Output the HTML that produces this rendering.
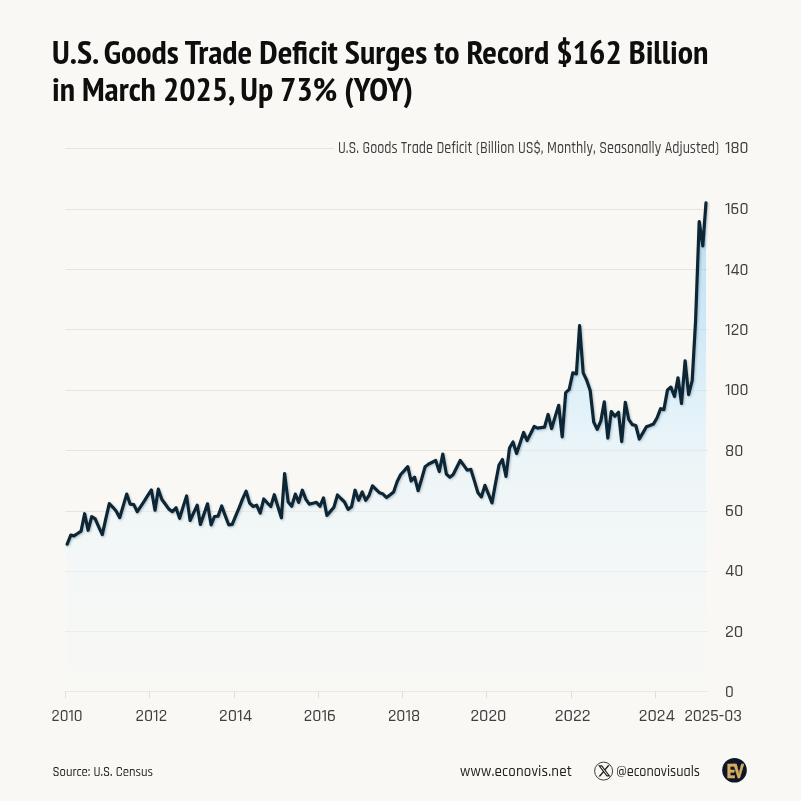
<!DOCTYPE html>
<html><head><meta charset="utf-8"><title>U.S. Goods Trade Deficit</title>
<style>
html,body{margin:0;padding:0}
body{width:801px;height:801px;background:#f9f8f4;position:relative;overflow:hidden}
svg{position:absolute;left:0;top:0;display:block}
.tt{font-family:"PT Sans Narrow","Liberation Sans Narrow","Liberation Sans",sans-serif;font-weight:700;font-size:32.5px;fill:#0e0e0e}
.ax text{font-family:Rajdhani,"Liberation Sans Narrow","Liberation Sans",sans-serif;font-weight:500;font-size:16.7px;fill:#404040}
.grid line{stroke:#e5e4e0;stroke-width:1}
.ticks line{stroke:#e0dfdb;stroke-width:1}
.foot text{font-family:Rajdhani,"Liberation Sans Narrow","Liberation Sans",sans-serif;font-weight:500;fill:#222}
</style></head><body>
<svg width="801" height="801" viewBox="0 0 801 801">
<defs>
<linearGradient id="fillg" x1="0" y1="203" x2="0" y2="691" gradientUnits="userSpaceOnUse">
<stop offset="0.000" stop-color="#7fc6f2" stop-opacity="0.5"/><stop offset="0.117" stop-color="#8fcef6" stop-opacity="0.5"/><stop offset="0.260" stop-color="#a9daf8" stop-opacity="0.5"/><stop offset="0.404" stop-color="#c7eafe" stop-opacity="0.5"/><stop offset="0.486" stop-color="#d9f0fc" stop-opacity="0.5"/><stop offset="0.609" stop-color="#e7f4fa" stop-opacity="0.5"/><stop offset="0.732" stop-color="#edf6fa" stop-opacity="0.5"/><stop offset="0.855" stop-color="#f3f8f8" stop-opacity="0.5"/><stop offset="1.000" stop-color="#f7f8f4" stop-opacity="0.5"/>
</linearGradient>
<filter id="sh" x="-5%" y="-5%" width="110%" height="110%"><feGaussianBlur in="SourceAlpha" stdDeviation="1.3"/><feOffset dx="1.0" dy="1.2" result="b"/><feFlood flood-color="#4a6478" flood-opacity="0.4"/><feComposite in2="b" operator="in"/><feMerge><feMergeNode/><feMergeNode in="SourceGraphic"/></feMerge></filter>
</defs>
<g class="tt">
<text x="52" y="63.5" textLength="656.4" lengthAdjust="spacingAndGlyphs">U.S. Goods Trade Deficit Surges to Record $162 Billion</text>
<text x="52" y="100.5" textLength="361" lengthAdjust="spacingAndGlyphs">in March 2025, Up 73% (YOY)</text>
</g>
<g class="grid"><line x1="65.5" x2="707.5" y1="691.5" y2="691.5"/><line x1="65.5" x2="707.5" y1="631.5" y2="631.5"/><line x1="65.5" x2="707.5" y1="571.5" y2="571.5"/><line x1="65.5" x2="707.5" y1="511.5" y2="511.5"/><line x1="65.5" x2="707.5" y1="450.5" y2="450.5"/><line x1="65.5" x2="707.5" y1="390.5" y2="390.5"/><line x1="65.5" x2="707.5" y1="329.5" y2="329.5"/><line x1="65.5" x2="707.5" y1="269.5" y2="269.5"/><line x1="65.5" x2="707.5" y1="209.5" y2="209.5"/><line x1="65.5" x2="334" y1="148.5" y2="148.5"/></g>
<path d="M67.2,544.2 L70.8,535.1 L74.0,535.9 L77.6,533.5 L81.1,531.1 L84.6,513.7 L88.1,530.3 L91.7,516.7 L95.2,518.9 L98.7,526.8 L102.3,534.6 L105.7,519.1 L109.3,503.6 L112.9,507.3 L116.1,511.0 L119.7,517.7 L123.2,505.9 L126.7,494.1 L130.2,504.2 L133.8,504.6 L137.3,511.7 L140.8,506.3 L144.4,500.9 L147.8,495.4 L151.4,490.0 L155.0,510.2 L158.3,489.2 L161.9,499.5 L165.4,504.3 L168.9,509.1 L172.4,511.7 L176.0,507.8 L179.6,518.3 L183.0,507.1 L186.6,496.0 L190.1,520.5 L193.6,512.9 L197.2,505.2 L200.4,524.4 L204.0,514.1 L207.5,503.8 L211.1,524.8 L214.5,516.5 L218.1,516.1 L221.7,506.0 L225.1,515.4 L228.7,524.8 L232.2,524.4 L235.7,515.9 L239.3,507.3 L242.5,499.2 L246.1,491.2 L249.6,503.0 L253.2,506.5 L256.6,505.2 L260.2,513.0 L263.8,499.0 L267.2,502.8 L270.8,506.5 L274.3,494.7 L277.8,506.2 L281.4,517.8 L284.6,473.5 L288.2,502.0 L291.7,506.3 L295.3,494.1 L298.7,502.4 L302.3,490.2 L305.9,499.3 L309.3,504.1 L312.9,503.2 L316.4,502.4 L319.9,506.3 L323.5,498.0 L326.9,515.5 L330.4,511.4 L333.9,507.2 L337.5,495.0 L340.9,498.5 L344.5,502.0 L348.1,509.4 L351.5,506.8 L355.1,490.2 L358.6,500.3 L362.2,492.0 L365.7,500.3 L369.0,495.5 L372.5,485.8 L376.0,489.3 L379.6,492.8 L383.0,494.1 L386.6,497.6 L390.2,494.8 L393.6,492.0 L397.2,481.5 L400.7,474.5 L404.3,470.6 L407.8,466.6 L411.1,481.0 L414.6,477.2 L418.1,490.7 L421.7,478.7 L425.1,466.7 L428.7,464.0 L432.3,462.2 L435.7,460.5 L439.3,471.5 L442.8,454.0 L446.4,474.1 L449.9,477.2 L453.2,474.5 L456.7,467.5 L460.2,460.5 L463.8,465.4 L467.2,470.2 L470.8,469.3 L474.4,480.9 L477.8,492.4 L481.4,496.9 L484.9,485.4 L488.5,494.1 L492.0,502.9 L495.4,483.9 L499.0,465.0 L502.4,459.5 L506.0,476.4 L509.5,448.0 L513.0,442.0 L516.6,453.5 L520.1,443.0 L523.6,432.5 L527.1,440.5 L530.7,433.5 L534.2,426.5 L537.5,428.1 L541.1,427.6 L544.5,427.2 L548.1,414.5 L551.6,428.5 L555.1,416.9 L558.7,405.3 L562.2,436.8 L565.7,392.7 L569.2,389.4 L572.8,372.9 L576.4,373.9 L579.6,325.5 L583.2,372.9 L586.6,380.0 L590.2,390.5 L593.7,422.0 L597.2,429.4 L600.8,421.1 L604.3,401.9 L607.8,438.1 L611.3,411.5 L614.9,416.3 L618.5,412.3 L621.7,441.6 L625.3,402.3 L628.7,419.3 L632.3,424.6 L635.8,425.5 L639.3,439.0 L642.9,432.9 L646.4,426.8 L649.9,425.5 L653.4,424.1 L657.0,418.0 L660.6,408.7 L663.9,409.6 L667.5,389.9 L670.9,387.1 L674.5,396.5 L678.0,377.8 L681.5,403.5 L685.1,360.9 L688.6,394.6 L692.2,380.6 L695.6,320.6 L699.2,221.6 L702.8,245.9 L706.0,202.9 L706.0,691.4 L67.2,691.4 Z" fill="url(#fillg)"/>
<g class="ticks"><line x1="65.5" x2="65.5" y1="691" y2="698"/><line x1="149.5" x2="149.5" y1="691" y2="698"/><line x1="234.5" x2="234.5" y1="691" y2="698"/><line x1="318.5" x2="318.5" y1="691" y2="698"/><line x1="402.5" x2="402.5" y1="691" y2="698"/><line x1="486.5" x2="486.5" y1="691" y2="698"/><line x1="571.5" x2="571.5" y1="691" y2="698"/><line x1="655.5" x2="655.5" y1="691" y2="698"/></g>
<path d="M67.2,544.2 L70.8,535.1 L74.0,535.9 L77.6,533.5 L81.1,531.1 L84.6,513.7 L88.1,530.3 L91.7,516.7 L95.2,518.9 L98.7,526.8 L102.3,534.6 L105.7,519.1 L109.3,503.6 L112.9,507.3 L116.1,511.0 L119.7,517.7 L123.2,505.9 L126.7,494.1 L130.2,504.2 L133.8,504.6 L137.3,511.7 L140.8,506.3 L144.4,500.9 L147.8,495.4 L151.4,490.0 L155.0,510.2 L158.3,489.2 L161.9,499.5 L165.4,504.3 L168.9,509.1 L172.4,511.7 L176.0,507.8 L179.6,518.3 L183.0,507.1 L186.6,496.0 L190.1,520.5 L193.6,512.9 L197.2,505.2 L200.4,524.4 L204.0,514.1 L207.5,503.8 L211.1,524.8 L214.5,516.5 L218.1,516.1 L221.7,506.0 L225.1,515.4 L228.7,524.8 L232.2,524.4 L235.7,515.9 L239.3,507.3 L242.5,499.2 L246.1,491.2 L249.6,503.0 L253.2,506.5 L256.6,505.2 L260.2,513.0 L263.8,499.0 L267.2,502.8 L270.8,506.5 L274.3,494.7 L277.8,506.2 L281.4,517.8 L284.6,473.5 L288.2,502.0 L291.7,506.3 L295.3,494.1 L298.7,502.4 L302.3,490.2 L305.9,499.3 L309.3,504.1 L312.9,503.2 L316.4,502.4 L319.9,506.3 L323.5,498.0 L326.9,515.5 L330.4,511.4 L333.9,507.2 L337.5,495.0 L340.9,498.5 L344.5,502.0 L348.1,509.4 L351.5,506.8 L355.1,490.2 L358.6,500.3 L362.2,492.0 L365.7,500.3 L369.0,495.5 L372.5,485.8 L376.0,489.3 L379.6,492.8 L383.0,494.1 L386.6,497.6 L390.2,494.8 L393.6,492.0 L397.2,481.5 L400.7,474.5 L404.3,470.6 L407.8,466.6 L411.1,481.0 L414.6,477.2 L418.1,490.7 L421.7,478.7 L425.1,466.7 L428.7,464.0 L432.3,462.2 L435.7,460.5 L439.3,471.5 L442.8,454.0 L446.4,474.1 L449.9,477.2 L453.2,474.5 L456.7,467.5 L460.2,460.5 L463.8,465.4 L467.2,470.2 L470.8,469.3 L474.4,480.9 L477.8,492.4 L481.4,496.9 L484.9,485.4 L488.5,494.1 L492.0,502.9 L495.4,483.9 L499.0,465.0 L502.4,459.5 L506.0,476.4 L509.5,448.0 L513.0,442.0 L516.6,453.5 L520.1,443.0 L523.6,432.5 L527.1,440.5 L530.7,433.5 L534.2,426.5 L537.5,428.1 L541.1,427.6 L544.5,427.2 L548.1,414.5 L551.6,428.5 L555.1,416.9 L558.7,405.3 L562.2,436.8 L565.7,392.7 L569.2,389.4 L572.8,372.9 L576.4,373.9 L579.6,325.5 L583.2,372.9 L586.6,380.0 L590.2,390.5 L593.7,422.0 L597.2,429.4 L600.8,421.1 L604.3,401.9 L607.8,438.1 L611.3,411.5 L614.9,416.3 L618.5,412.3 L621.7,441.6 L625.3,402.3 L628.7,419.3 L632.3,424.6 L635.8,425.5 L639.3,439.0 L642.9,432.9 L646.4,426.8 L649.9,425.5 L653.4,424.1 L657.0,418.0 L660.6,408.7 L663.9,409.6 L667.5,389.9 L670.9,387.1 L674.5,396.5 L678.0,377.8 L681.5,403.5 L685.1,360.9 L688.6,394.6 L692.2,380.6 L695.6,320.6 L699.2,221.6 L702.8,245.9 L706.0,202.9" fill="none" stroke="#0e2634" stroke-width="3.2" stroke-linejoin="round" stroke-linecap="round" filter="url(#sh)"/>
<g class="ax">
<text x="338" y="153.1" textLength="381" lengthAdjust="spacingAndGlyphs" style="fill:#3c3c3c;font-weight:500">U.S. Goods Trade Deficit (Billion US$, Monthly, Seasonally Adjusted)</text>
<text x="725" y="696.8" textLength="8.8" lengthAdjust="spacingAndGlyphs">0</text><text x="725" y="636.5" textLength="18.3" lengthAdjust="spacingAndGlyphs">20</text><text x="725" y="576.1" textLength="18.3" lengthAdjust="spacingAndGlyphs">40</text><text x="725" y="515.8" textLength="18.3" lengthAdjust="spacingAndGlyphs">60</text><text x="725" y="455.5" textLength="18.3" lengthAdjust="spacingAndGlyphs">80</text><text x="725" y="395.1" textLength="23.5" lengthAdjust="spacingAndGlyphs">100</text><text x="725" y="334.8" textLength="23.5" lengthAdjust="spacingAndGlyphs">120</text><text x="725" y="274.5" textLength="23.5" lengthAdjust="spacingAndGlyphs">140</text><text x="725" y="214.1" textLength="23.5" lengthAdjust="spacingAndGlyphs">160</text><text x="725" y="153.0" textLength="23.5" lengthAdjust="spacingAndGlyphs">180</text>
<text x="67.1" y="720.7" textLength="31.1" lengthAdjust="spacingAndGlyphs" text-anchor="middle">2010</text><text x="151.4" y="720.7" textLength="31.6" lengthAdjust="spacingAndGlyphs" text-anchor="middle">2012</text><text x="235.6" y="720.7" textLength="33.1" lengthAdjust="spacingAndGlyphs" text-anchor="middle">2014</text><text x="319.9" y="720.7" textLength="32.2" lengthAdjust="spacingAndGlyphs" text-anchor="middle">2016</text><text x="404.1" y="720.7" textLength="32.3" lengthAdjust="spacingAndGlyphs" text-anchor="middle">2018</text><text x="488.4" y="720.7" textLength="36.0" lengthAdjust="spacingAndGlyphs" text-anchor="middle">2020</text><text x="572.7" y="720.7" textLength="36.0" lengthAdjust="spacingAndGlyphs" text-anchor="middle">2022</text><text x="656.9" y="720.7" textLength="36.2" lengthAdjust="spacingAndGlyphs" text-anchor="middle">2024</text><text x="713.2" y="720.7" textLength="57.6" lengthAdjust="spacingAndGlyphs" text-anchor="middle">2025-03</text>
</g>
<g class="foot">
<text x="52.5" y="775.7" textLength="100.5" lengthAdjust="spacingAndGlyphs" font-size="14">Source: U.S. Census</text>
<text x="460" y="776" textLength="112" lengthAdjust="spacing" font-size="15">www.econovis.net</text>
<text x="616" y="776" textLength="84" lengthAdjust="spacingAndGlyphs" font-size="15">@econovisuals</text>
</g>
<g transform="translate(603.6,771.1)">
<circle r="9.0" fill="none" stroke="#2a2a2a" stroke-width="0.9"/>
</g>
<path transform="translate(604.2,770.9) scale(0.57) translate(-11.88,-12)" fill="#1a1a1a" d="M18.244 2.25h3.308l-7.227 8.26 8.502 11.24H16.17l-5.214-6.817L4.99 21.75H1.68l7.73-8.835L1.254 2.25H8.08l4.713 6.231zm-1.161 17.52h1.833L7.084 4.126H5.117z"/>
<g transform="translate(734.5,770.2)">
<circle r="12.3" fill="#0d1626"/>
<text x="0" y="7.3" text-anchor="middle" font-family="'PT Sans Narrow','Liberation Sans Narrow',sans-serif" font-weight="700" font-size="20" letter-spacing="-1.5" fill="#d9aa60" stroke="#d9aa60" stroke-width="0.35">EV</text>
</g>
</svg>
</body></html>
